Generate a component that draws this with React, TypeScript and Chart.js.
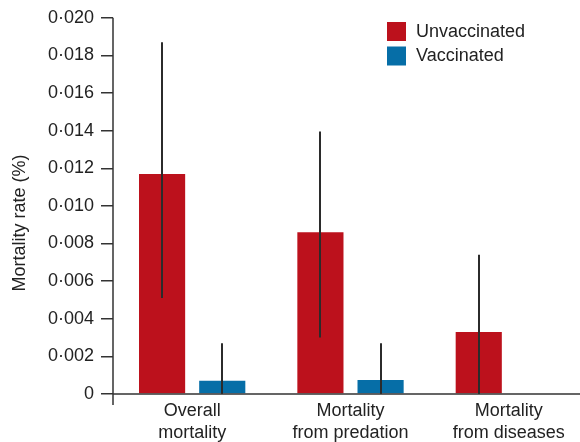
import React, { useEffect, useRef } from "react";
import { Chart, registerables } from "chart.js";

Chart.register(...registerables);

const categories: string[][] = [
  ["Overall", "mortality"],
  ["Mortality", "from predation"],
  ["Mortality", "from diseases"],
];
const seriesNames = ["Unvaccinated", "Vaccinated"];
const unvaccinated = [0.0117, 0.0086, 0.0033];
const vaccinated = [0.0007, 0.00075, 0];
const unvaccinatedLow = [0.0051, 0.003, 0];
const unvaccinatedHigh = [0.0187, 0.01395, 0.0074];
const vaccinatedLow = [0, 0, null];
const vaccinatedHigh = [0.0027, 0.0027, null];
const yTicksMin = 0;
const yTicksMax = 0.02;
const yTickStep = 0.002;
const yTitle = "Mortality rate (%)";

const RED = "#bc111c";
const BLUE = "#066ea7";
const INK = "#2b2b2b";
const FONT = '"Liberation Sans", Arial, Helvetica, sans-serif';
const FS = 18;

export default function App() {
  const ref = useRef<HTMLCanvasElement | null>(null);

  useEffect(() => {
    const canvas = ref.current;
    if (!canvas) return;
    const lows = [unvaccinatedLow, vaccinatedLow];
    const highs = [unvaccinatedHigh, vaccinatedHigh];
    const colors = [RED, BLUE];

    const customPlugin = {
      id: "custom",
      afterDatasetsDraw(chart: any) {
        const ctx = chart.ctx;
        const yScale = chart.scales.y;
        ctx.save();
        ctx.strokeStyle = INK;
        ctx.lineWidth = 2;
        chart.data.datasets.forEach((_ds: any, di: number) => {
          const meta = chart.getDatasetMeta(di);
          meta.data.forEach((bar: any, i: number) => {
            const lo = lows[di][i];
            const hi = highs[di][i];
            if (lo == null || hi == null) return;
            const x = Math.round(bar.x);
            ctx.beginPath();
            ctx.moveTo(x, yScale.getPixelForValue(lo));
            ctx.lineTo(x, yScale.getPixelForValue(hi));
            ctx.stroke();
          });
        });
        ctx.restore();
      },
      afterDraw(chart: any) {
        const ctx = chart.ctx;
        const a = chart.chartArea;
        ctx.save();
        ctx.strokeStyle = "#333";
        ctx.lineWidth = 1.5;
        ctx.beginPath();
        ctx.moveTo(a.left, a.top);
        ctx.lineTo(a.left, a.bottom + 11);
        ctx.moveTo(a.left, a.bottom);
        ctx.lineTo(a.right, a.bottom);
        ctx.stroke();
        ctx.fillStyle = "#222";
        ctx.font = `${FS}px ${FONT}`;
        ctx.textAlign = "center";
        ctx.textBaseline = "middle";
        ctx.translate(20, (a.top + a.bottom) / 2 + 17);
        ctx.rotate(-Math.PI / 2);
        ctx.fillText(yTitle, 0, 0);
        ctx.restore();
        ctx.save();
        ctx.font = `${FS}px ${FONT}`;
        ctx.textBaseline = "middle";
        ctx.textAlign = "left";
        seriesNames.forEach((name, i) => {
          const y = 22 + i * 24.5;
          ctx.fillStyle = colors[i];
          ctx.fillRect(387, y, 19, 19);
          ctx.fillStyle = "#222";
          ctx.fillText(name, 416, y + 10);
        });
        ctx.restore();
      },
    };

    const chart = new Chart(canvas, {
      type: "bar",
      data: {
        labels: categories,
        datasets: [
          { label: seriesNames[0], data: unvaccinated, backgroundColor: RED, borderWidth: 0 },
          { label: seriesNames[1], data: vaccinated, backgroundColor: BLUE, borderWidth: 0 },
        ],
      },
      options: {
        responsive: false,
        animation: false,
        devicePixelRatio: 1,
        layout: { padding: { top: 17, left: 0, right: 0, bottom: 0 } },
        datasets: {
          bar: { categoryPercentage: 0.76, barPercentage: 0.767 },
        },
        plugins: {
          legend: { display: false },
          tooltip: { enabled: false },
          title: { display: false },
        },
        scales: {
          x: {
            type: "category",
            offset: true,
            grid: { display: false, drawTicks: false },
            border: { display: false },
            ticks: {
              color: "#222",
              font: { family: FONT, size: FS, lineHeight: 1.22 },
              padding: 6,
              maxRotation: 0,
              autoSkip: false,
            },
            afterFit: (scale: any) => {
              scale.height = 48;
            },
          },
          y: {
            min: yTicksMin,
            max: yTicksMax,
            border: { display: false },
            grid: {
              display: true,
              drawOnChartArea: false,
              drawTicks: true,
              tickLength: 12,
              color: "#333",
              lineWidth: 1.5,
            },
            ticks: {
              stepSize: yTickStep,
              color: "#222",
              font: { family: FONT, size: FS },
              padding: 7,
              callback: (v: any) => {
                const n = Number(v);
                if (Math.abs(n) < 1e-9) return "0";
                return n.toFixed(3).replace(".", "\u00b7");
              },
            },
            afterFit: (scale: any) => {
              scale.width = 113;
            },
          },
        },
      },
      plugins: [customPlugin],
    });
    return () => chart.destroy();
  }, []);

  return (
    <div
      style={{
        position: "fixed",
        left: 0,
        top: 0,
        width: 580,
        height: 442,
        overflow: "hidden",
        background: "#fff",
      }}
    >
      <canvas ref={ref} width={588} height={442} style={{ width: 588, height: 442, display: "block" }} />
    </div>
  );
}
